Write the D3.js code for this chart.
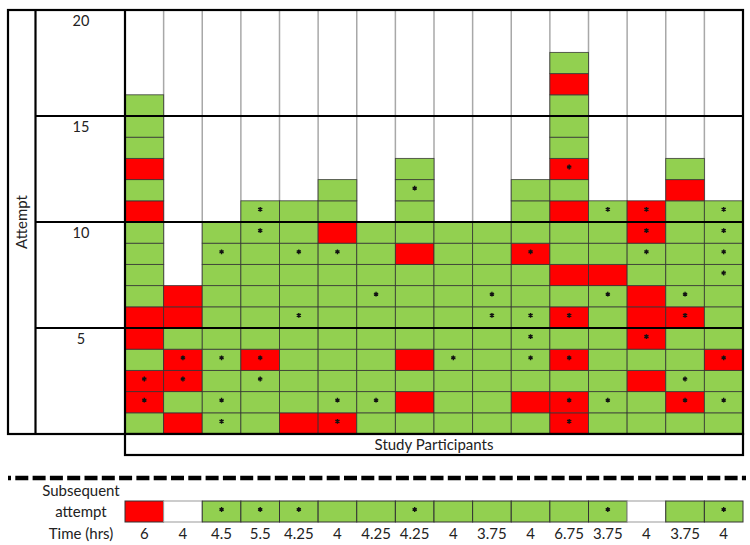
<!DOCTYPE html>
<html>
<head>
<meta charset="utf-8">
<script src="https://cdn.jsdelivr.net/npm/d3@7/dist/d3.min.js"></script>
<style>
  html, body { margin: 0; padding: 0; background: #fff; }
  svg { display: block; }
  text { font-family: Lato, "Open Sans", sans-serif; fill: #222; }
</style>
</head>
<body>
<svg id="chart" width="750" height="545"></svg>
<script>
// ---- data ----
// per participant, attempt outcomes from attempt 1 upward: G = green, R = red, * = asterisk
const attemptResults = [
  "G R* R* G R R G G G G R G R G G G",
  "R G R* R* G R R",
  "G* G* G G* G G G G G* G",
  "G G G* R* G G G G G G* G*",
  "R G G G G G* G G G* G G",
  "R* G* G G G G G G G* R G G",
  "G G* G G G G G* G G G",
  "G R G R G G G G R G G G* G",
  "G G G G* G G G G G G",
  "G G G G G G* G* G G G",
  "G R G G* G* G* G G R* G G G",
  "R* R* G R* G R* G R G G R G R* G G G R G",
  "G G* G G G G G* R G G G*",
  "G G R G R* R R G G* R* R*",
  "G R* G* G G R* G* G G G G R G",
  "G G* G R* G G G G* G* G* G*"
];
const subsequentAttempt = ["R", "", "G*", "G*", "G*", "G", "G", "G*", "G", "G", "G", "G", "G*", "", "G", "G*"];
const timeHrs = ["6", "4", "4.5", "5.5", "4.25", "4", "4.25", "4.25", "4", "3.75", "4", "6.75", "3.75", "4", "3.75", "4"];
const attemptTicks = [20, 15, 10, 5];
const maxAttempt = 20;

// ---- drawing ----
const svg = d3.select("#chart");
const GREEN = "#92D050", RED = "#FF0000";
const gx0 = 125, gx1 = 743, gy0 = 10, gy1 = 434;

const x = d3.scaleBand().domain(d3.range(attemptResults.length)).range([gx0, gx1]).padding(0);
const y = d3.scaleLinear().domain([0, maxAttempt]).range([gy1, gy0]);

const cells = [];
attemptResults.forEach((s, i) => {
  s.split(" ").forEach((c, k) => {
    cells.push({ i, attempt: k + 1, color: c[0], star: c.includes("*") });
  });
});

// grey column separators
svg.append("g").selectAll("line")
  .data(d3.range(attemptResults.length + 1))
  .join("line")
  .attr("x1", d => gx0 + d * x.bandwidth()).attr("x2", d => gx0 + d * x.bandwidth())
  .attr("y1", gy0).attr("y2", gy1)
  .attr("stroke", "#a8a8a8").attr("stroke-width", 1.5);

// cells
svg.append("g").selectAll("rect")
  .data(cells)
  .join("rect")
  .attr("x", d => x(d.i))
  .attr("y", d => y(d.attempt))
  .attr("width", x.bandwidth())
  .attr("height", d => y(d.attempt - 1) - y(d.attempt))
  .attr("fill", d => d.color === "R" ? RED : GREEN)
  .attr("stroke", "#333")
  .attr("stroke-opacity", 0.85)
  .attr("stroke-width", 0.9);

const star = d3.symbol(d3.symbolAsterisk, 16);
svg.append("g").selectAll("path")
  .data(cells.filter(d => d.star))
  .join("path")
  .attr("d", star)
  .attr("transform", d => `translate(${x(d.i) + x.bandwidth() / 2},${(y(d.attempt) + y(d.attempt - 1)) / 2 - 2})`)
  .attr("fill", "none").attr("stroke", "#111").attr("stroke-width", 1.4);

// thick frame lines
const frame = svg.append("g").attr("stroke", "#000").attr("stroke-width", 2.2).attr("fill", "none");
frame.append("rect").attr("x", 8).attr("y", gy0).attr("width", gx1 - 8).attr("height", gy1 - gy0);
frame.append("line").attr("x1", 35.5).attr("x2", 35.5).attr("y1", gy0).attr("y2", gy1);
frame.append("line").attr("x1", gx0).attr("x2", gx0).attr("y1", gy0).attr("y2", gy1);
frame.selectAll("line.band")
  .data(attemptTicks.filter(t => t < maxAttempt))
  .join("line").attr("class", "band")
  .attr("x1", 35.5).attr("x2", gx1)
  .attr("y1", d => y(d)).attr("y2", d => y(d));

// tick labels
svg.append("g").selectAll("text")
  .data(attemptTicks)
  .join("text")
  .attr("x", 81).attr("y", d => y(d) + 15.5)
  .attr("text-anchor", "middle")
  .attr("font-size", 14.5)
  .text(d => d);

svg.append("text")
  .attr("transform", `translate(27,${(gy0 + gy1) / 2}) rotate(-90)`)
  .attr("text-anchor", "middle")
  .attr("font-size", 15)
  .text("Attempt");

// Study Participants box
svg.append("rect").attr("x", gx0).attr("y", gy1).attr("width", gx1 - gx0).attr("height", 21)
  .attr("fill", "#fff").attr("stroke", "#000").attr("stroke-width", 2.2);
svg.append("text").attr("x", (gx0 + gx1) / 2).attr("y", gy1 + 15.5)
  .attr("text-anchor", "middle").attr("font-size", 15).text("Study Participants");

// dashed separator
svg.append("line").attr("x1", 8).attr("x2", 746).attr("y1", 478).attr("y2", 478)
  .attr("stroke", "#000").attr("stroke-width", 4.5).attr("stroke-dasharray", "13,4.3")
  .attr("stroke-dashoffset", 10);

// subsequent attempt row
const sy0 = 501, sy1 = 522;
svg.append("text").attr("x", 81).attr("y", 496).attr("text-anchor", "middle").attr("font-size", 15).text("Subsequent");
svg.append("text").attr("x", 81).attr("y", 517).attr("text-anchor", "middle").attr("font-size", 15).text("attempt");
svg.append("text").attr("x", 81).attr("y", 539).attr("text-anchor", "middle").attr("font-size", 15).text("Time (hrs)");

svg.append("g").selectAll("rect")
  .data(subsequentAttempt.map((c, i) => ({ i, c })))
  .join("rect")
  .attr("x", d => x(d.i)).attr("y", sy0)
  .attr("width", x.bandwidth()).attr("height", sy1 - sy0)
  .attr("fill", d => d.c === "" ? "#fff" : (d.c[0] === "R" ? RED : GREEN))
  .attr("stroke", d => d.c === "" ? "#999" : "#333")
  .attr("stroke-width", 1);

svg.append("g").selectAll("path")
  .data(subsequentAttempt.map((c, i) => ({ i, c })).filter(d => d.c.includes("*")))
  .join("path")
  .attr("d", star)
  .attr("transform", d => `translate(${x(d.i) + x.bandwidth() / 2},${(sy0 + sy1) / 2 - 2})`)
  .attr("fill", "none").attr("stroke", "#111").attr("stroke-width", 1.4);

svg.append("g").selectAll("text")
  .data(timeHrs.map((t, i) => ({ i, t })))
  .join("text")
  .attr("x", d => x(d.i) + x.bandwidth() / 2).attr("y", 539)
  .attr("text-anchor", "middle").attr("font-size", 15)
  .text(d => d.t);
</script>
</body>
</html>
